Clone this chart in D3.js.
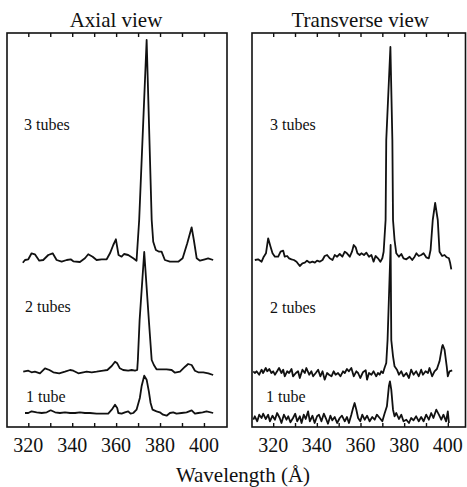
<!DOCTYPE html>
<html>
<head>
<meta charset="utf-8">
<script src="https://cdn.jsdelivr.net/npm/d3@7"></script>
<style>
  body { margin: 0; background: #fff; }
  svg { display: block; }
</style>
</head>
<body>
<script>
// ---- data -------------------------------------------------------------
const panelTitles = ["Axial view", "Transverse view"];
const seriesNames = ["3 tubes", "2 tubes", "1 tube"];
const tickValues = [320, 330, 340, 350, 360, 370, 380, 390, 400];
const tickLabels = [320, 340, 360, 380, 400];
const axisTitle = "Wavelength (\u00C5)";
const wavelengthRange = [310.3, 410.5];
const intensityRange = [0, 394];

// vertical offsets used to stack the spectra (intensity units)
const axialOffsets = [167, 56, 14];
const transverseOffsets = [167, 54, 9];

// [wavelength (Å), intensity]
const axial3 = [[317.5,-2.7],[318.5,0],[320,0.7],[321.5,6.7],[323,5.7],[325,-0.7],[326.8,0],[329.1,5],[331.1,6.7],[332.9,0],[335.2,-1.7],[337.5,0],[339.3,0.7],[340.5,-1.3],[343.5,-2],[345.8,1.7],[347.3,5.7],[349.3,3.3],[351.1,0],[353.4,0.7],[355.7,0.7],[357.2,6.7],[358.7,15],[359.9,20.7],[361.1,5],[362.5,3.3],[363.6,6],[365.5,5],[367.8,1.7],[369.3,-0.7],[370.5,40],[373.9,220],[376.2,40],[376.9,18.3],[378.1,10],[379.6,8.3],[380.7,8.3],[382.2,0],[384.5,-1.7],[388.3,-1.7],[390.3,1.7],[392.4,16.7],[394.4,32.7],[395.4,20],[396.7,1.7],[398.2,-0.7],[400.4,0.7],[401.9,1.7],[404.2,0]];

const axial2 = [[317.7,-0.7],[320,0.3],[321.5,-1.3],[323,-0.7],[325.3,-2.3],[327.6,2.7],[329.6,1],[331.4,-1.3],[334.1,-2.3],[336.7,-0.7],[339,1],[340.5,0.3],[342.8,-2.3],[345,-1.3],[346.6,-0.7],[348.9,-1.3],[351.1,-0.7],[354.1,0.3],[356,1],[358,5],[359.5,9.3],[360.5,7.7],[361.7,2.7],[363.2,1],[365.5,0.3],[367.1,1],[368.6,0.3],[369.6,1],[369.9,11],[370.7,51],[372.8,119],[374.9,51],[376.2,11],[377.2,6],[378.4,1.7],[380.7,1.7],[383,1.7],[385.3,1],[386.8,-1.7],[389.1,-0.7],[391.4,4.3],[392.8,7],[394.4,6],[395.9,0.3],[397.4,-1.3],[399.7,-1.3],[402,-2.3],[404.2,-4]];

const axial1 = [[318.5,0],[320,0],[321.5,1.7],[323.8,0.7],[326.1,0],[328.4,0.7],[330.2,2.7],[332.2,0.7],[334.4,0],[336.7,0.7],[339,0],[341.3,0],[343.5,0.7],[345.8,0],[348.1,0],[351.1,-0.7],[354.1,-0.7],[356.4,-0.7],[358,3.3],[359.5,8.3],[360.5,5],[361,0],[362.5,-0.7],[364,0.7],[365.5,1.7],[366.6,-0.7],[367.8,0],[369.3,3.3],[370.8,15],[371.6,26.7],[372.8,37.3],[373.9,33.3],[374.9,21.7],[375.7,10],[376.6,3.3],[378.4,1.7],[379.9,0.7],[381.4,-1.7],[383,-2.7],[384.5,0],[386,0.7],[387.5,-0.7],[389.8,0],[392.1,0.7],[394.4,2.7],[395.9,-0.7],[397.4,0],[399.4,0.7],[401.2,1.7],[404.2,0]];

const transverse3 = [[311.6,0],[313.1,0.7],[314.7,-1.7],[315.7,3.3],[316.7,6.7],[317.7,21.7],[318.8,13.3],[319.7,6.7],[320.8,3.3],[322.3,3.3],[323.4,8.3],[324.6,9.3],[325.3,3.3],[326.4,4],[327.3,1.7],[328.4,0.7],[329.5,0],[330.7,-1.7],[332.2,-6],[333.4,-3.3],[334.5,-2.7],[335.5,-0.7],[336.8,-2.7],[338,-1.7],[339.1,-2.7],[340.1,-0.7],[341.3,-1.7],[342.6,0],[343.6,4],[344.7,5],[345.9,1.7],[347.2,0],[348.2,5],[349.3,3.3],[350.5,6],[351.7,3.3],[352.8,8.3],[353.8,6.7],[355.1,3.3],[356.1,8.3],[356.9,15],[357.8,12.7],[358.6,6.7],[359.6,5],[360.4,6.7],[361.6,5],[362.7,7.3],[363.9,3.3],[365,5],[366,-1.7],[366.9,4],[368,1.7],[369.1,-1.7],[370,1.7],[370.6,8.3],[371.5,40],[371.8,120],[373.7,213],[374.6,120],[374.9,40],[375.6,20],[376.4,6.7],[377.6,3.3],[378.7,6],[379.7,1.7],[381,0.7],[382.5,3.3],[383.7,0],[384.8,3.3],[385.6,6.7],[386.7,4],[387.8,5],[388.9,6.7],[390.1,2.7],[391.3,1.7],[392.1,10],[393.1,40],[394.2,57],[395.4,40],[396.2,8.3],[397.4,4],[398.5,5],[399.5,2.7],[400.5,1.7],[401.1,-3.3],[401.6,-9.3]];

const transverse2 = [[310.9,1.7],[311.6,0],[312.4,1.7],[313.6,-1.7],[314.7,3.3],[315.4,0],[316.6,5],[317.3,1.7],[318.2,4],[319.2,0],[320,1.7],[320.8,-1.7],[321.8,1.7],[322.7,5],[323.8,0],[324.6,3.3],[325.3,-3.3],[326.4,1.7],[327.3,0],[328.4,4],[329.1,-3.3],[330.4,0],[331.4,1.7],[332.2,-5],[333.4,3.3],[334.5,0],[335.2,5],[336.5,-1.7],[337.5,1.7],[338.3,-3.3],[339.5,0],[340.6,3.3],[341.6,-3.3],[342.6,1.7],[343.6,-6.7],[344.7,0],[345.6,-1.7],[346.7,-3.3],[347.7,1.7],[348.6,-1.7],[349.7,0],[350.8,-3.3],[352,1.7],[352.8,0],[353.8,4],[354.7,1.7],[355.8,5],[356.9,-3.3],[358.1,1.7],[358.9,0],[359.9,-5],[361.1,0.7],[362.4,2.7],[363,-6.7],[363.9,0],[365,-1.7],[366,1.7],[367.2,-3.3],[368,0],[368.8,-1.7],[369.5,1.7],[370.3,0],[371,5],[371.8,10],[372.4,33],[373.8,128],[374.1,33],[374.9,16.7],[375.6,6.7],[376.7,3.3],[377.6,-1.7],[378.7,1.7],[379.7,-3.3],[381,0],[382.2,-5],[383.2,3.3],[384.3,-1.7],[385.5,1.7],[386.7,-3.3],[387.8,3.3],[388.6,-1.7],[389.8,1.7],[390.9,0],[391.6,5],[392.8,-3.3],[393.9,1.7],[395,4],[396.2,11.7],[397.4,26.7],[397.7,28],[398.5,23.3],[399.5,6.7],[400,-3.3],[400.8,1.7],[402,2.7]];

const transverse1 = [[310.9,-1.7],[311.6,1.7],[312.7,-3.3],[313.6,3.3],[314.7,0],[315.4,4.3],[316.6,-1],[317.7,3.3],[318.5,-3.3],[319.7,2.3],[320.8,-1.7],[321.8,5],[323,0],[323.8,-5],[324.9,3.3],[326.1,-1.7],[326.9,1.7],[327.9,-4.3],[329.1,0],[330.1,4.3],[331,-3.3],[332.2,1.7],[333,-5],[334,3.3],[334.9,-1],[336,6.7],[336.8,-3.3],[338,2.3],[339,-5],[340.1,1.7],[341,3.3],[342.1,-3.3],[343.2,4.3],[344.4,-1.7],[345.1,-5.7],[346.2,2.3],[347.1,-2.3],[348.2,1],[349.3,-5],[350.5,0],[351.5,2.3],[352.8,-3.3],[353.8,1],[354.7,-5],[355.8,3.3],[356.6,10],[357.3,15],[358.1,8.3],[358.9,0],[359.9,-3.3],[360.8,3.3],[361.9,-1.7],[363,2.3],[364.2,-3.3],[365.4,1],[366.5,-1.7],[367.5,3.3],[368.8,0],[370,-3.3],[371,4.3],[372.1,11.7],[373,31.7],[373.5,36.7],[374.1,28.3],[374.9,8.3],[375.6,1.7],[376.4,5],[377.6,-1],[378.7,3.3],[379.7,-3.3],[381,-1.7],[382.2,-5],[383.2,0],[384.3,-2.3],[385.5,1.7],[386.7,-3.3],[387.8,1],[388.9,-3.3],[390.1,3.3],[391.3,-1.7],[392.4,5],[393.4,0],[394.7,8.3],[395.9,3.3],[397,-1.7],[398,3.3],[399.2,-3.3],[400,6.7],[400.5,-5]];

// ---- layout -----------------------------------------------------------
const W = 467, H = 487;
const plotTop = 33, plotBottom = 427;
const serif = "'Liberation Serif', 'Times New Roman', serif";
const panels = [
  { title: panelTitles[0], left: 7,   right: 227,   xMax: wavelengthRange[1], titleShift: -1,
    traces: [axial3, axial2, axial1], offsets: axialOffsets,
    labelX: [24, 25, 26], labelY: [130, 312, 402] },
  { title: panelTitles[1], left: 252, right: 465.5, xMax: 408.1, titleShift: 1.5,
    traces: [transverse3, transverse2, transverse1], offsets: transverseOffsets,
    labelX: [270, 270, 266], labelY: [130, 313, 402] }
];

const svg = d3.select("body").append("svg")
  .attr("width", W).attr("height", H);

panels.forEach(p => {
  const x = d3.scaleLinear().domain([wavelengthRange[0], p.xMax]).range([p.left, p.right]);
  const y = d3.scaleLinear().domain(intensityRange).range([plotBottom, plotTop]);
  const g = svg.append("g");

  // frame
  g.append("rect")
    .attr("x", p.left).attr("y", plotTop)
    .attr("width", p.right - p.left).attr("height", plotBottom - plotTop)
    .attr("fill", "none").attr("stroke", "#111").attr("stroke-width", 1.6);

  // inward ticks on top and bottom edges
  const topAxis = d3.axisBottom(x).tickValues(tickValues).tickSize(4).tickFormat("");
  const botAxis = d3.axisTop(x).tickValues(tickValues).tickSize(4).tickFormat("");
  [[topAxis, plotTop], [botAxis, plotBottom]].forEach(([ax, yy]) => {
    const a = g.append("g").attr("transform", `translate(0,${yy})`).call(ax);
    a.select(".domain").remove();
    a.selectAll(".tick line").attr("stroke", "#111").attr("stroke-width", 1.4);
  });

  // tick labels
  g.selectAll("text.tl").data(tickLabels).join("text")
    .attr("class", "tl")
    .attr("x", d => x(d)).attr("y", 452)
    .attr("text-anchor", "middle")
    .attr("font-family", serif).attr("font-size", 20)
    .attr("fill", "#111")
    .text(d => d);

  // panel title
  g.append("text")
    .attr("x", (p.left + p.right) / 2 + p.titleShift).attr("y", 27)
    .attr("text-anchor", "middle")
    .attr("font-family", serif).attr("font-size", 21)
    .attr("fill", "#111")
    .text(p.title);

  // spectra, stacked by offset
  p.traces.forEach((tr, i) => {
    const line = d3.line()
      .x(d => x(d[0]))
      .y(d => y(d[1] + p.offsets[i]));
    g.append("path")
      .datum(tr)
      .attr("d", line)
      .attr("fill", "none").attr("stroke", "#111")
      .attr("stroke-width", 1.8).attr("stroke-linejoin", "round");
    g.append("text")
      .attr("x", p.labelX[i]).attr("y", p.labelY[i])
      .attr("font-family", serif).attr("font-size", 16)
      .attr("fill", "#111")
      .text(seriesNames[i]);
  });
});

svg.append("text")
  .attr("x", 243).attr("y", 482)
  .attr("text-anchor", "middle")
  .attr("font-family", serif).attr("font-size", 21)
  .attr("fill", "#111")
  .text(axisTitle);
</script>
</body>
</html>
